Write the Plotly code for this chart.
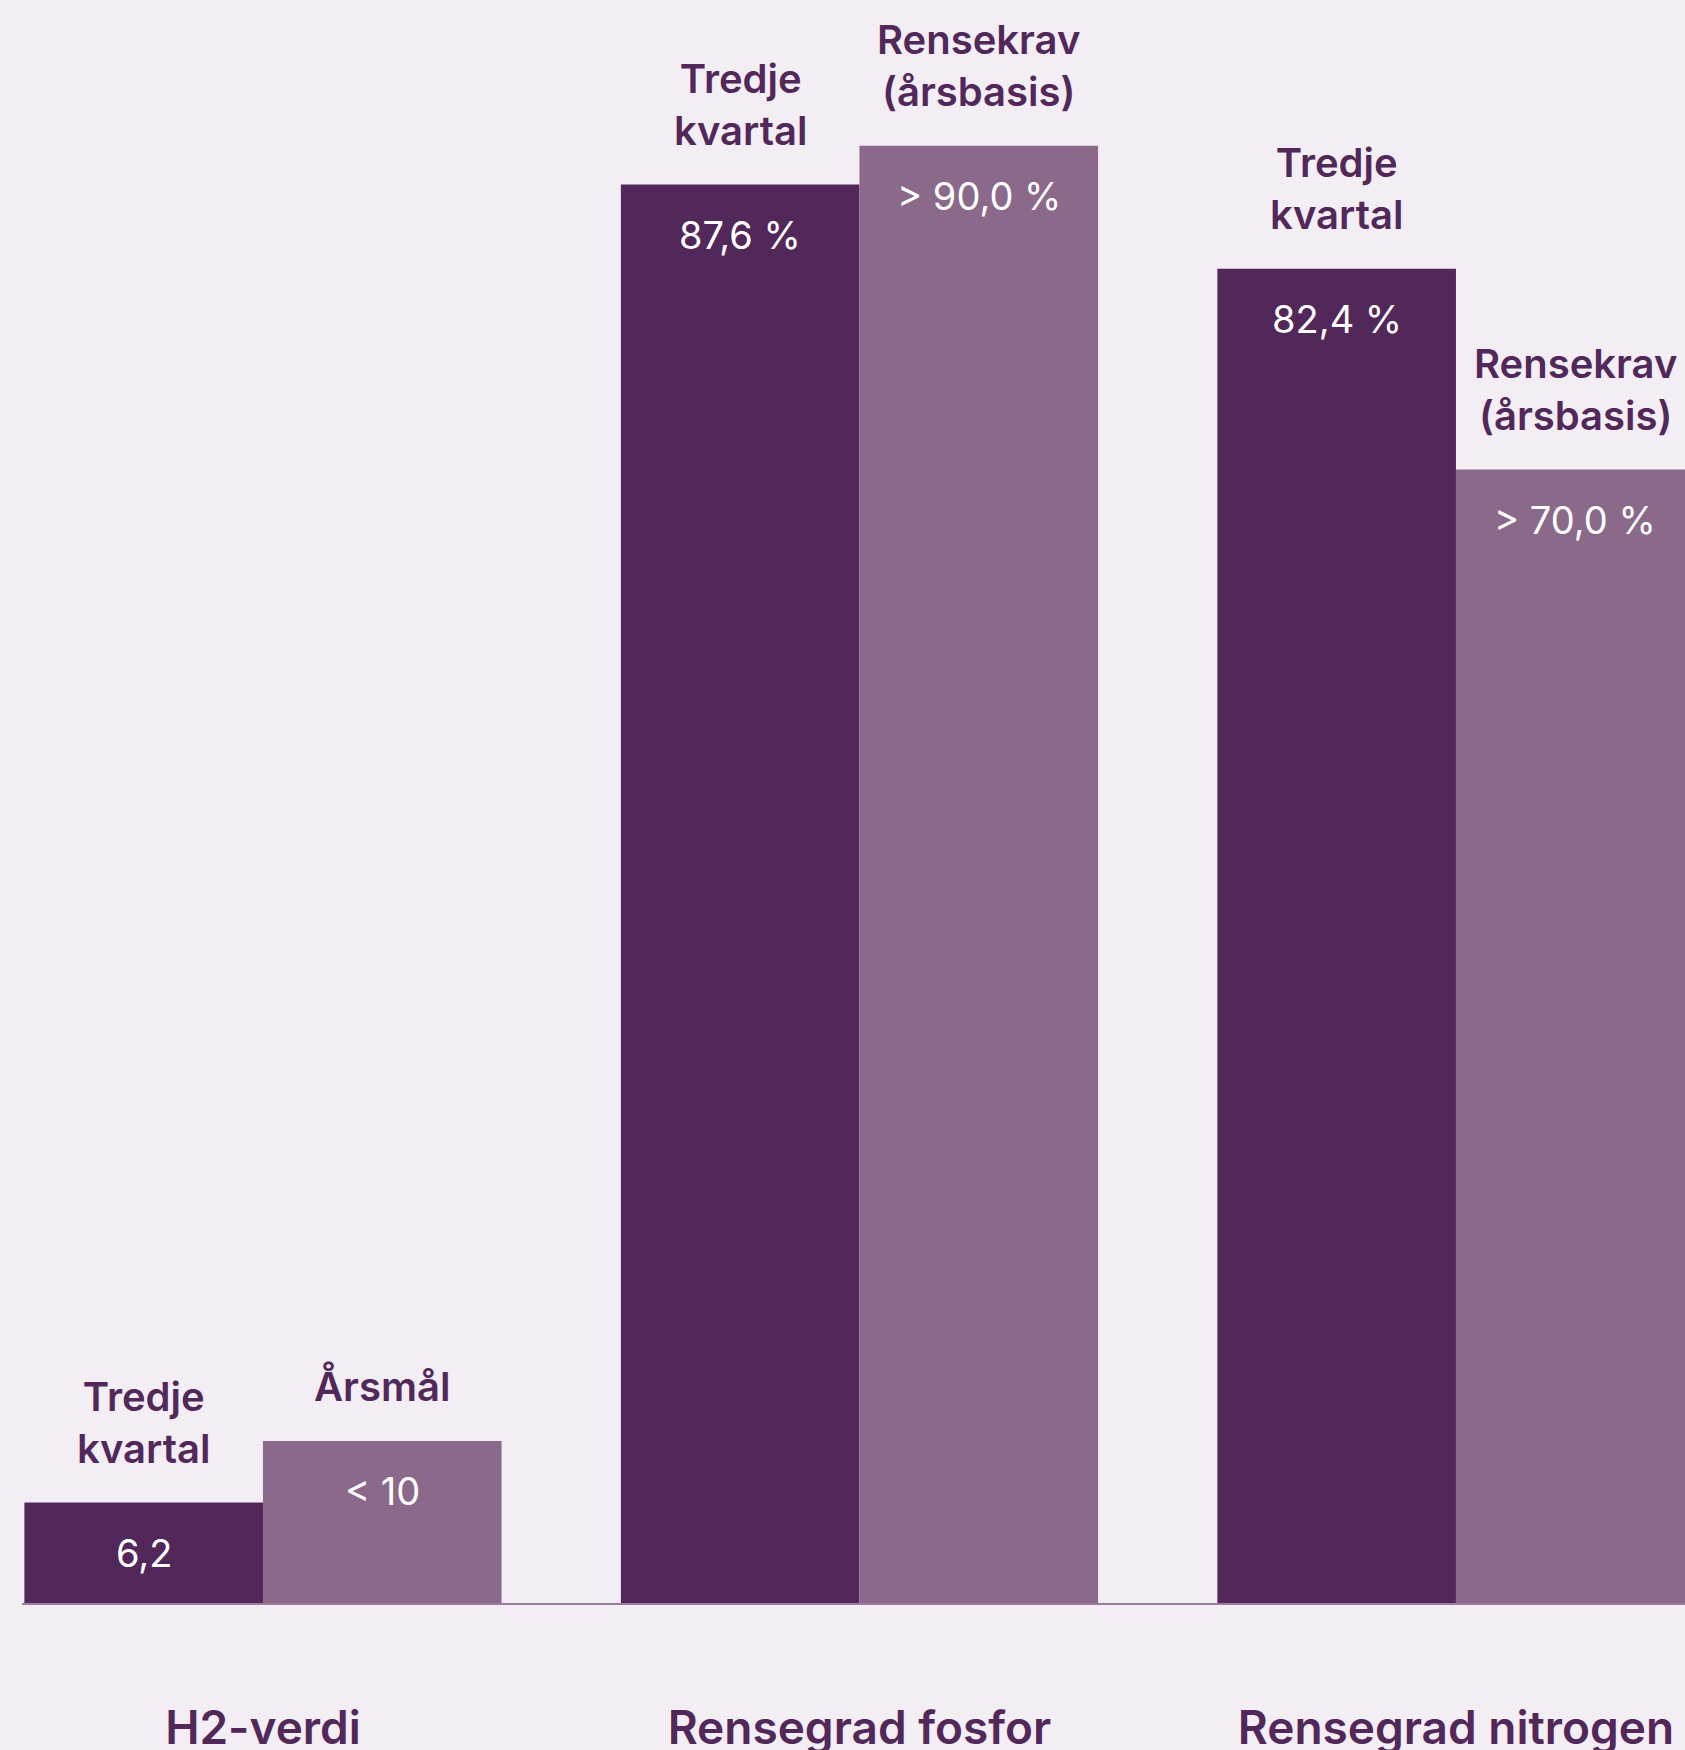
import plotly.graph_objects as go

# data
groups = ['H2-verdi', 'Rensegrad fosfor', 'Rensegrad nitrogen']
actual = [6.2, 87.6, 82.4]
target = [10, 90.0, 70.0]
actual_text = ['6,2', '87,6 %', '82,4 %']
target_text = ['< 10', '> 90,0 %', '> 70,0 %']
actual_name = ['Tredje<br>kvartal', 'Tredje<br>kvartal', 'Tredje<br>kvartal']
target_name = ['Årsmål', 'Rensekrav<br>(årsbasis)', 'Rensekrav<br>(årsbasis)']

DARK = '#52285a'
LIGHT = '#8b698a'
BG = '#f3eef4'
FONT = 'Inter'

fig = go.Figure()
fig.add_trace(go.Bar(x=groups, y=actual, marker_color=DARK, marker_line_width=0,
                     hoverinfo='skip'))
fig.add_trace(go.Bar(x=groups, y=target, marker_color=LIGHT, marker_line_width=0,
                     hoverinfo='skip'))

# bar centres in category units (bargap 0.2, two bars per group)
half = 0.2
for i in range(len(groups)):
    for dx, val, vtxt, name in [(-half, actual[i], actual_text[i], actual_name[i]),
                                (half, target[i], target_text[i], target_name[i])]:
        fig.add_annotation(x=i + dx, y=val, text=vtxt, showarrow=False,
                           yanchor='top', yshift=-25,
                           font=dict(family=FONT, size=38, color='white'))
        fig.add_annotation(x=i + dx, y=val, text=name, showarrow=False,
                           yanchor='bottom', yshift=28,
                           font=dict(family=FONT, size=40, color=DARK, weight=600))

fig.update_layout(
    width=1685, height=1750,
    margin=dict(l=22, r=0, t=0, b=147),
    paper_bgcolor=BG, plot_bgcolor=BG,
    barmode='group', bargap=0.2, bargroupgap=0,
    showlegend=False,
    xaxis=dict(range=[-0.404, 2.384], showgrid=False, zeroline=False,
               showline=True, linecolor='#9b7d9b', linewidth=2, automargin=False,
               ticks='outside', ticklen=84, tickcolor='rgba(0,0,0,0)',
               tickfont=dict(family=FONT, size=46, color=DARK, weight=600)),
    yaxis=dict(range=[0, 99.0], visible=False, automargin=False),
)

fig.write_html('out.html', config={'displayModeBar': False},
               post_script="document.body.style.margin='0';")
